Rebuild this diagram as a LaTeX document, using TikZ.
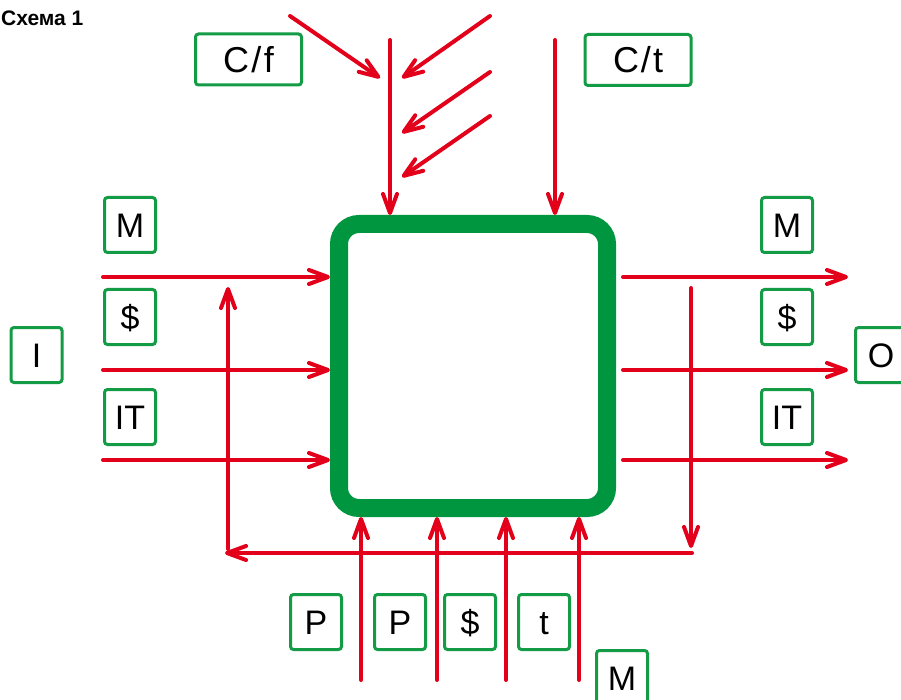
\documentclass[tikz,border=0pt]{standalone}
\usepackage{fontspec}
\setmainfont{Liberation Sans}
\usetikzlibrary{arrows.meta}
\definecolor{myred}{RGB}{226,0,26}
\definecolor{mygreen}{RGB}{0,150,64}
\definecolor{lblgreen}{RGB}{20,155,70}
\begin{document}
\begin{tikzpicture}[x=1pt,y=-1pt,
  arr/.style={draw=myred, line width=4pt, line cap=round, -{Straight Barb[length=19pt,width=14pt,round]}},
  lbl/.style={draw=lblgreen, line width=3pt, rounded corners=3pt, fill=white,
    minimum width=51pt, minimum height=55pt, inner sep=0pt,
    text height=24.4pt, text depth=0pt, font=\fontsize{34}{34}\selectfont},
  widelbl/.style={lbl, minimum width=106pt, minimum height=51pt,
    text height=25.8pt, font=\fontsize{36}{36}\selectfont},
  mainbox/.style={draw=mygreen, line width=18pt, rounded corners=20pt,
    minimum width=268pt, minimum height=284pt}
]
\useasboundingbox (0,0) rectangle (901,700);

% title
\node[anchor=north west, inner sep=0pt, font=\bfseries\fontsize{21}{21}\selectfont] (title) at (1,11) {Схема 1};

% main box
\node[mainbox] (box) at (473,366) {};

% labels
\node[widelbl] (cf) at (248.5,59.5) {C\kern2.5pt/\kern2.5pt f};
\node[widelbl] (ct) at (638,60) {C\kern2pt/\kern2pt t};
\node[lbl] (lM) at (130,225) {M};
\node[lbl] (lD) at (130,317) {\$};
\node[lbl] (lIT) at (130,417) {IT};
\node[lbl] (lI) at (36.5,355) {I};
\node[lbl] (rM) at (787,225) {M};
\node[lbl] (rD) at (787,317) {\$};
\node[lbl] (rIT) at (787,417) {IT};
\node[lbl] (rO) at (881,355) {O};
\node[lbl] (bP1) at (316,622) {P};
\node[lbl] (bP2) at (400,622) {P};
\node[lbl] (bD) at (470,622) {\$};
\node[lbl] (bt) at (544,622) {t};
\node[lbl] (bM) at (622,678) {M};

% top inputs
\coordinate (tv1) at (390,40);
\coordinate (tv2) at (555,40);
\draw[arr] (tv1) -- (tv1 |- box.north);
\draw[arr] (tv2) -- (tv2 |- box.north);
\coordinate (d0s) at (290,16);
\coordinate (d0e) at (380,78);
\coordinate (d1s) at (490,16);
\coordinate (d1e) at (402,78);
\coordinate (d2s) at (490,72);
\coordinate (d2e) at (402,133);
\coordinate (d3s) at (490,116);
\coordinate (d3e) at (402,177);
\draw[arr] (d0s) -- (d0e);
\draw[arr] (d1s) -- (d1e);
\draw[arr] (d2s) -- (d2e);
\draw[arr] (d3s) -- (d3e);

% left inputs
\coordinate (in1) at (103,277);
\coordinate (in2) at (103,370);
\coordinate (in3) at (103,460);
\draw[arr] (in1) -- (in1 -| box.west);
\draw[arr] (in2) -- (in2 -| box.west);
\draw[arr] (in3) -- (in3 -| box.west);

% right outputs
\coordinate (os1) at (623,277);
\coordinate (os2) at (623,370);
\coordinate (os3) at (623,460);
\coordinate (out1) at (848,277);
\coordinate (out2) at (848,370);
\coordinate (out3) at (848,460);
\draw[arr] (os1) -- (out1);
\draw[arr] (os2) -- (out2);
\draw[arr] (os3) -- (out3);

% bottom inputs
\coordinate (b1) at (361,680);
\coordinate (b2) at (437,680);
\coordinate (b3) at (506,680);
\coordinate (b4) at (579,680);
\draw[arr] (b1) -- (b1 |- box.south);
\draw[arr] (b2) -- (b2 |- box.south);
\draw[arr] (b3) -- (b3 |- box.south);
\draw[arr] (b4) -- (b4 |- box.south);

% feedback loop
\coordinate (fr1) at (691,288);
\coordinate (fr2) at (691,548);
\coordinate (fb1) at (692,553);
\coordinate (fb2) at (225,553);
\coordinate (fl1) at (228,549);
\coordinate (fl2) at (228,287);
\draw[arr] (fr1) -- (fr2);
\draw[arr] (fb1) -- (fb2);
\draw[arr] (fl1) -- (fl2);
\end{tikzpicture}
\end{document}
